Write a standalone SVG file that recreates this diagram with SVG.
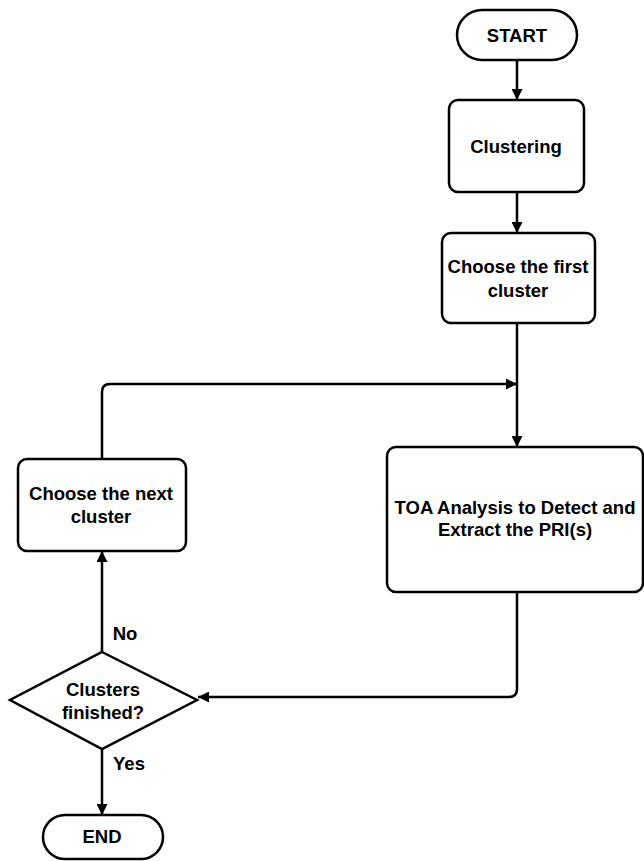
<svg xmlns="http://www.w3.org/2000/svg" width="644" height="861" viewBox="0 0 644 861">
  <style>
    .shape { fill: #ffffff; stroke: #000000; stroke-width: 2.5; }
    .line { fill: none; stroke: #000000; stroke-width: 2.5; }
    .label { font-family: "Liberation Sans", Arial, sans-serif; font-weight: bold; font-size: 18.5px; fill: #000000; text-anchor: middle; }
  </style>
  <defs>
    <marker id="arrow" viewBox="0 0 10 10" refX="10" refY="5" markerWidth="4.4" markerHeight="4.4" orient="auto" markerUnits="strokeWidth">
      <path d="M0,0 L10,5 L0,10 z" fill="#000000"/>
    </marker>
  </defs>

  <rect width="644" height="861" fill="#ffffff"/>

  <!-- connectors -->
  <g id="connectors">
    <path class="line" d="M517,60 L517,100" marker-end="url(#arrow)"/>
    <path class="line" d="M517,192 L517,233" marker-end="url(#arrow)"/>
    <path class="line" d="M517,323 L517,447" marker-end="url(#arrow)"/>
    <path class="line" d="M517,592 L517,689 Q517,697 509,697 L198,697" marker-end="url(#arrow)"/>
    <path class="line" d="M102,652 L102,551" marker-end="url(#arrow)"/>
    <path class="line" d="M102,459 L102,392 Q102,384 110,384 L517,384" marker-end="url(#arrow)"/>
    <path class="line" d="M102,749 L102,815" marker-end="url(#arrow)"/>
  </g>

  <g id="start">
    <rect class="shape" x="457" y="10" width="120" height="50" rx="25"/>
    <text class="label" x="517" y="42">START</text>
  </g>

  <g id="clustering">
    <rect class="shape" x="449" y="100" width="135" height="92" rx="9"/>
    <text class="label" x="516" y="153">Clustering</text>
  </g>

  <g id="first-cluster">
    <rect class="shape" x="442" y="233" width="153" height="90" rx="9"/>
    <text class="label" x="518" y="273">Choose the first</text>
    <text class="label" x="518" y="297">cluster</text>
  </g>

  <g id="toa-analysis">
    <rect class="shape" x="387" y="447" width="256" height="145" rx="9"/>
    <text class="label" x="515" y="514">TOA Analysis to Detect and</text>
    <text class="label" x="515" y="536">Extract the PRI(s)</text>
  </g>

  <g id="next-cluster">
    <rect class="shape" x="18" y="459" width="168" height="92" rx="9"/>
    <text class="label" x="101" y="500">Choose the next</text>
    <text class="label" x="101" y="523">cluster</text>
  </g>

  <g id="decision">
    <polygon class="shape" points="102,652 197,700 102,749 10,700"/>
    <text class="label" x="103" y="696">Clusters</text>
    <text class="label" x="103" y="719">finished?</text>
  </g>

  <g id="branch-labels">
    <text class="label" x="125" y="640">No</text>
    <text class="label" x="129" y="770">Yes</text>
  </g>

  <g id="end">
    <rect class="shape" x="43" y="815" width="120" height="44" rx="22"/>
    <text class="label" x="102" y="843">END</text>
  </g>
</svg>
